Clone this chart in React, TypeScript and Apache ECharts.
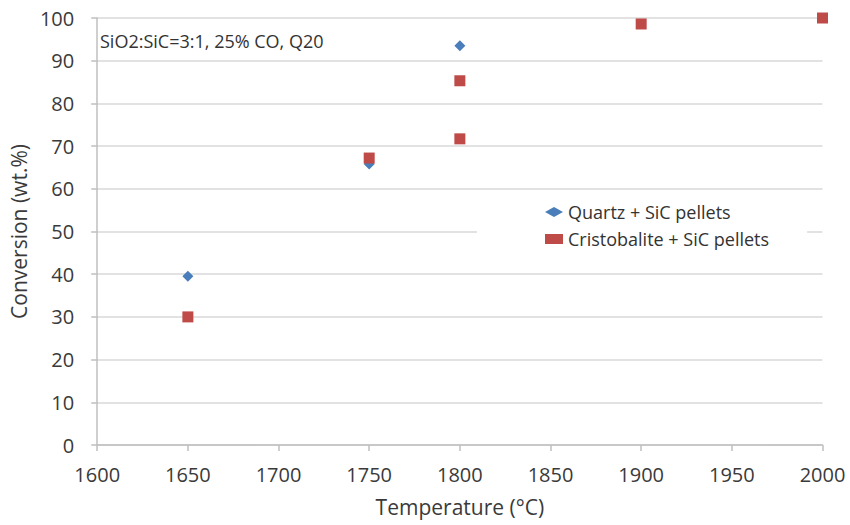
import React, { useEffect, useRef } from "react";
import * as echarts from "echarts";

const quartzTemps = [1650, 1750, 1800];
const quartzConv = [39.5, 65.8, 93.5];
const cristoTemps = [1650, 1750, 1800, 1800, 1900, 2000];
const cristoConv = [30, 67.2, 85.3, 71.7, 98.6, 100];
const seriesNames = ["Quartz + SiC pellets", "Cristobalite + SiC pellets"];
const annotation = "SiO2:SiC=3:1, 25% CO, Q20";
const xTitle = "Temperature (°C)";
const yTitle = "Conversion (wt.%)";

const FONT = "'Open Sans', Lato, sans-serif";
const BLUE = "#4a7ebb";
const RED = "#be4b48";

export default function App() {
  const ref = useRef<HTMLDivElement>(null);
  useEffect(() => {
    if (!ref.current) return;
    const chart = echarts.init(ref.current, null, { renderer: "svg" });
    chart.setOption({
      animation: false,
      backgroundColor: "#ffffff",
      textStyle: { fontFamily: FONT },
      grid: { left: 91, right: 27.5, top: 18, bottom: 80 },
      xAxis: {
        type: "value",
        min: 1600,
        max: 2000,
        interval: 50,
        name: xTitle,
        nameLocation: "middle",
        nameGap: 51,
        nameTextStyle: { fontSize: 21, color: "#3a3a3a", fontFamily: FONT },
        axisLine: { show: true, lineStyle: { color: "#bfbfbf", width: 1.5 } },
        axisTick: { show: true, length: 6, lineStyle: { color: "#bfbfbf", width: 1.5 } },
        axisLabel: {
          fontSize: 20,
          color: "#3a3a3a",
          margin: 19,
          fontFamily: FONT,
          formatter: (v: number) => String(v),
        },
        splitLine: { show: false },
      },
      yAxis: {
        type: "value",
        min: 0,
        max: 100,
        interval: 10,
        name: yTitle,
        nameLocation: "middle",
        nameGap: 60,
        nameTextStyle: { fontSize: 21, color: "#3a3a3a", fontFamily: FONT },
        axisLine: { show: true, lineStyle: { color: "#bfbfbf", width: 1.5 } },
        axisTick: { show: true, length: 6, lineStyle: { color: "#bfbfbf", width: 1.5 } },
        axisLabel: {
          fontSize: 20,
          color: "#3a3a3a",
          margin: 23,
          fontFamily: FONT,
          formatter: (v: number) => String(v),
        },
        splitLine: { show: true, lineStyle: { color: "#d9d9d9", width: 1.5 } },
      },
      legend: {
        orient: "vertical",
        left: 477,
        top: 196,
        padding: [6, 38, 10, 68],
        backgroundColor: "#ffffff",
        itemWidth: 18,
        itemHeight: 10,
        itemGap: 7,
        symbolKeepAspect: true,
        textStyle: { fontSize: 18, color: "#333333", fontFamily: FONT, lineHeight: 20 },
        data: [
          { name: seriesNames[0], icon: "diamond", itemStyle: { color: BLUE, opacity: 1 } },
          { name: seriesNames[1], icon: "rect", itemStyle: { color: RED, opacity: 1 } },
        ],
      },
      graphic: [
        {
          type: "text",
          left: 100,
          top: 32,
          style: { text: annotation, fontSize: 18, fill: "#333333", fontFamily: FONT },
        },
      ],
      series: [
        {
          name: seriesNames[0],
          type: "scatter",
          symbol: "diamond",
          symbolSize: [11, 11],
          clip: false,
          itemStyle: { color: BLUE, opacity: 1 },
          data: quartzTemps.map((t, i) => [t, quartzConv[i]]),
          z: 3,
        },
        {
          name: seriesNames[1],
          type: "scatter",
          symbol: "rect",
          symbolSize: 11,
          clip: false,
          itemStyle: { color: RED, opacity: 1 },
          data: cristoTemps.map((t, i) => [t, cristoConv[i]]),
          z: 4,
        },
      ],
    });
    return () => chart.dispose();
  }, []);
  return (
    <div
      ref={ref}
      style={{ position: "fixed", left: 0, top: 0, width: 850, height: 525 }}
    />
  );
}
